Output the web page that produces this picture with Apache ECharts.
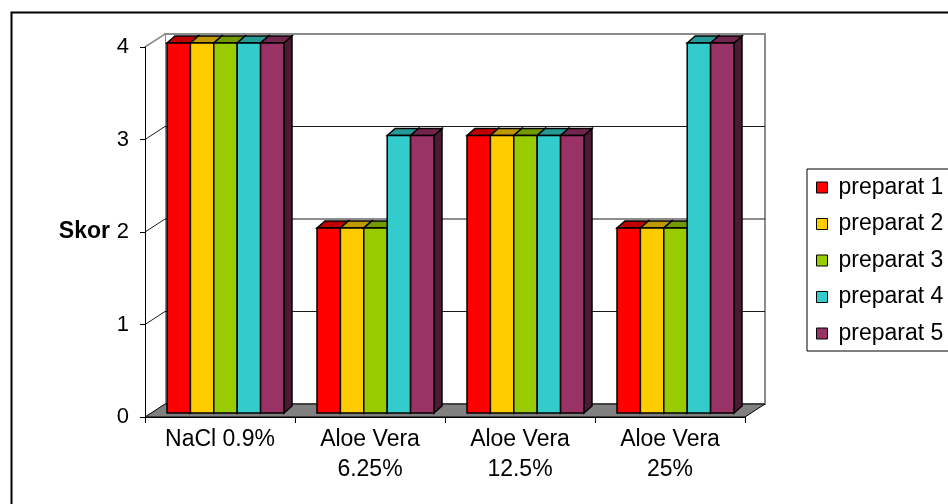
<!DOCTYPE html>
<html>
<head>
<meta charset="utf-8">
<script src="https://cdn.jsdelivr.net/npm/echarts@6/dist/echarts.min.js"></script>
<style>
  html, body { margin: 0; padding: 0; background: #ffffff; }
  #chart { width: 948px; height: 504px; }
</style>
</head>
<body>
<div id="chart"></div>
<script>
// Skor per preparat for each treatment group
const categories = ['NaCl 0.9%', 'Aloe Vera\n6.25%', 'Aloe Vera\n12.5%', 'Aloe Vera\n25%'];
const seriesNames = ['preparat 1', 'preparat 2', 'preparat 3', 'preparat 4', 'preparat 5'];
const preparat1 = [4, 2, 3, 2];
const preparat2 = [4, 2, 3, 2];
const preparat3 = [4, 2, 3, 2];
const preparat4 = [4, 3, 3, 4];
const preparat5 = [4, 3, 3, 4];
const yTicks = [0, 1, 2, 3, 4];

const seriesValues = [preparat1, preparat2, preparat3, preparat4, preparat5];
const colors = ['#FF0000', '#FFCC00', '#99CC00', '#33CCCC', '#993366'];

const FONT = "'Liberation Sans', Arial, sans-serif";
// depth of the chart box (floor / side wall) and of each bar
const WALL_DX = 20, WALL_DY = -13;
const BAR_DX = 8, BAR_DY = -7;
const BAR_SHIFT_X = 5.5, BAR_SHIFT_Y = -4;

function shade(hex, f) {
  const n = parseInt(hex.slice(1), 16);
  const r = Math.round(((n >> 16) & 255) * f);
  const g = Math.round(((n >> 8) & 255) * f);
  const b = Math.round((n & 255) * f);
  return 'rgb(' + r + ',' + g + ',' + b + ')';
}

// 3D box walls, floor and gridlines drawn from the grid and value axis
function renderWalls(params, api) {
  const cs = params.coordSys;
  const x0 = cs.x, x1 = cs.x + cs.width;
  const yTop = cs.y, yBot = cs.y + cs.height;
  const children = [];
  // back wall
  children.push({
    type: 'rect',
    shape: { x: x0 + WALL_DX, y: yTop + WALL_DY, width: cs.width, height: cs.height },
    style: { fill: '#ffffff', stroke: '#8c8c8c', lineWidth: 2 }
  });
  // left side wall
  children.push({
    type: 'polygon',
    shape: { points: [[x0, yTop], [x0 + WALL_DX, yTop + WALL_DY], [x0 + WALL_DX, yBot + WALL_DY], [x0, yBot]] },
    style: { fill: '#ffffff', stroke: null }
  });
  // gridlines (side wall diagonal + back wall horizontal)
  yTicks.forEach(function (t) {
    if (t === 0) return;
    const y = api.coord([0, t])[1];
    const top = t === yTicks[yTicks.length - 1];
    children.push({
      type: 'polyline',
      shape: { points: [[x0, y], [x0 + WALL_DX, y + WALL_DY], [x1 + WALL_DX, y + WALL_DY]] },
      style: { fill: null, stroke: top ? '#8c8c8c' : '#1a1a1a', lineWidth: top ? 1.5 : 1 }
    });
  });
  // floor
  children.push({
    type: 'polygon',
    shape: { points: [[x0, yBot], [x1, yBot], [x1 + WALL_DX, yBot + WALL_DY], [x0 + WALL_DX, yBot + WALL_DY]] },
    style: { fill: '#808080', stroke: '#000000', lineWidth: 1 }
  });
  return { type: 'group', children: children };
}

function makeBarRenderer(sIdx) {
  const front = colors[sIdx];
  const topC = shade(front, 0.75);
  const sideC = shade(front, 0.5);
  return function (params, api) {
    const ci = api.value(0);
    const v = api.value(1);
    const base = api.coord([ci, 0]);
    const peak = api.coord([ci, v]);
    const band = api.size([1, 0])[0];
    const barW = band * 0.78 / seriesNames.length;
    const xl = base[0] - barW * seriesNames.length / 2 + sIdx * barW + BAR_SHIFT_X;
    const xr = xl + barW;
    const yb = base[1] + BAR_SHIFT_Y;
    const yt = peak[1] + BAR_SHIFT_Y;
    const line = { stroke: '#000000', lineWidth: 1.5, lineJoin: 'miter' };
    return {
      type: 'group',
      children: [
        {
          type: 'polygon',
          shape: { points: [[xr, yb], [xr + BAR_DX, yb + BAR_DY], [xr + BAR_DX, yt + BAR_DY], [xr, yt]] },
          style: Object.assign({ fill: sideC }, line)
        },
        {
          type: 'polygon',
          shape: { points: [[xl, yt], [xr, yt], [xr + BAR_DX, yt + BAR_DY], [xl + BAR_DX, yt + BAR_DY]] },
          style: Object.assign({ fill: topC }, line)
        },
        {
          type: 'rect',
          shape: { x: xl, y: yt, width: barW, height: yb - yt },
          style: Object.assign({ fill: front }, line)
        }
      ]
    };
  };
}

const series = [{
  type: 'custom',
  name: '',
  renderItem: renderWalls,
  data: [[0, 0]],
  encode: { x: 0, y: 1 },
  silent: true,
  z: 1
}];
seriesNames.forEach(function (name, i) {
  series.push({
    type: 'custom',
    name: name,
    renderItem: makeBarRenderer(i),
    data: seriesValues[i].map(function (v, ci) { return [ci, v]; }),
    encode: { x: 0, y: 1 },
    itemStyle: { color: colors[i] },
    z: 2 + i
  });
});

const chart = echarts.init(document.getElementById('chart'), null, { renderer: 'canvas' });
chart.setOption({
  animation: false,
  backgroundColor: '#ffffff',
  textStyle: { fontFamily: FONT },
  grid: { left: 145, right: 203, top: 47, bottom: 87 },
  xAxis: {
    type: 'category',
    data: categories,
    axisLine: { show: true, lineStyle: { color: '#000000', width: 1 } },
    axisTick: { show: true, length: 6, interval: 0, lineStyle: { color: '#000000' } },
    axisLabel: { interval: 0, margin: 8, fontSize: 23, lineHeight: 30, color: '#000000', fontFamily: FONT },
    splitLine: { show: false },
    z: 10
  },
  yAxis: {
    type: 'value',
    min: 0,
    max: 4,
    interval: 1,
    name: 'Skor',
    nameLocation: 'middle',
    nameRotate: 0,
    nameGap: 35,
    nameTextStyle: { fontSize: 23, fontWeight: 'bold', color: '#000000', fontFamily: FONT },
    axisLine: { show: true, lineStyle: { color: '#000000', width: 1 } },
    axisTick: { show: true, length: 5, lineStyle: { color: '#000000' } },
    axisLabel: { margin: 16, fontSize: 22, color: '#000000', fontFamily: FONT },
    splitLine: { show: false },
    z: 10
  },
  legend: {
    data: seriesNames,
    orient: 'vertical',
    left: 807,
    top: 169,
    padding: [7, 40, 6, 9],
    itemWidth: 11,
    itemHeight: 11,
    itemGap: 13.5,
    icon: 'rect',
    itemStyle: { borderColor: '#000000', borderWidth: 1 },
    borderColor: '#000000',
    borderWidth: 1,
    textStyle: { fontSize: 23, lineHeight: 23, color: '#000000', fontFamily: FONT, padding: [0, 0, 0, 6] }
  },
  graphic: [{
    type: 'rect',
    left: 9,
    top: 10,
    shape: { width: 1000, height: 600 },
    style: { fill: null, stroke: '#000000', lineWidth: 2 },
    silent: true
  }],
  series: series
});
</script>
</body>
</html>
